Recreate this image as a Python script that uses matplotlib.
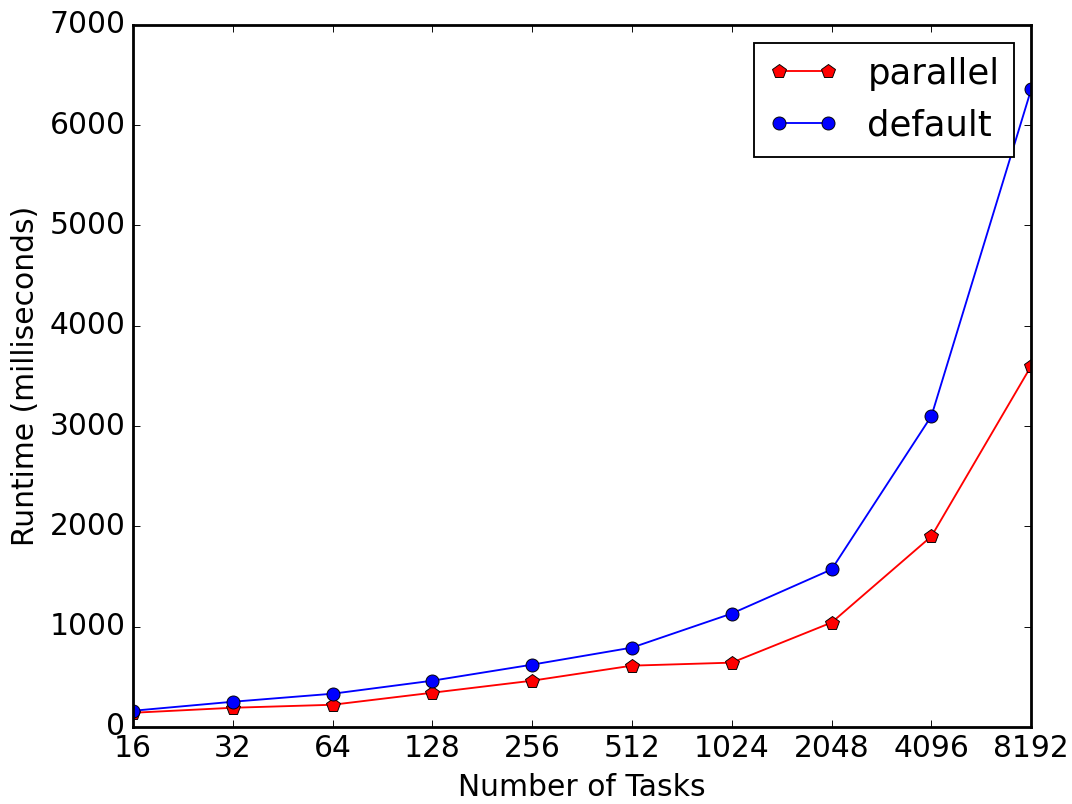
import numpy as np
import matplotlib
matplotlib.use("Agg")
import matplotlib.pyplot as plt

plt.style.use("classic")
plt.rcParams["font.size"] = 16
plt.rcParams["axes.linewidth"] = 1.5

tasks = [16, 32, 64, 128, 256, 512, 1024, 2048, 4096, 8192]
parallel_ms = [140, 190, 220, 340, 460, 610, 640, 1040, 1900, 3600]
default_ms = [160, 250, 330, 460, 620, 790, 1130, 1570, 3100, 6360]

fig, ax = plt.subplots(figsize=(8, 6), dpi=134)

ax.plot(tasks, parallel_ms, "r-p", markersize=7.5, linewidth=1.0, label="parallel")
ax.plot(tasks, default_ms, "b-o", markersize=7, linewidth=1.0, label="default")

ax.set_xscale("log", base=2)
ax.set_xticks(tasks)
ax.set_xticklabels([str(t) for t in tasks])
ax.minorticks_off()
ax.set_xlim(16, 8192)
ax.set_ylim(0, 7000)
ax.tick_params(labelsize=16)

ax.set_xlabel("Number of Tasks", fontsize=16)
ax.set_ylabel("Runtime (milliseconds)", fontsize=16)
ax.legend(loc="upper right", numpoints=2, fontsize=19)

fig.subplots_adjust(left=0.124, right=0.962, top=0.969, bottom=0.096)
fig.savefig("out.png", dpi=134)
